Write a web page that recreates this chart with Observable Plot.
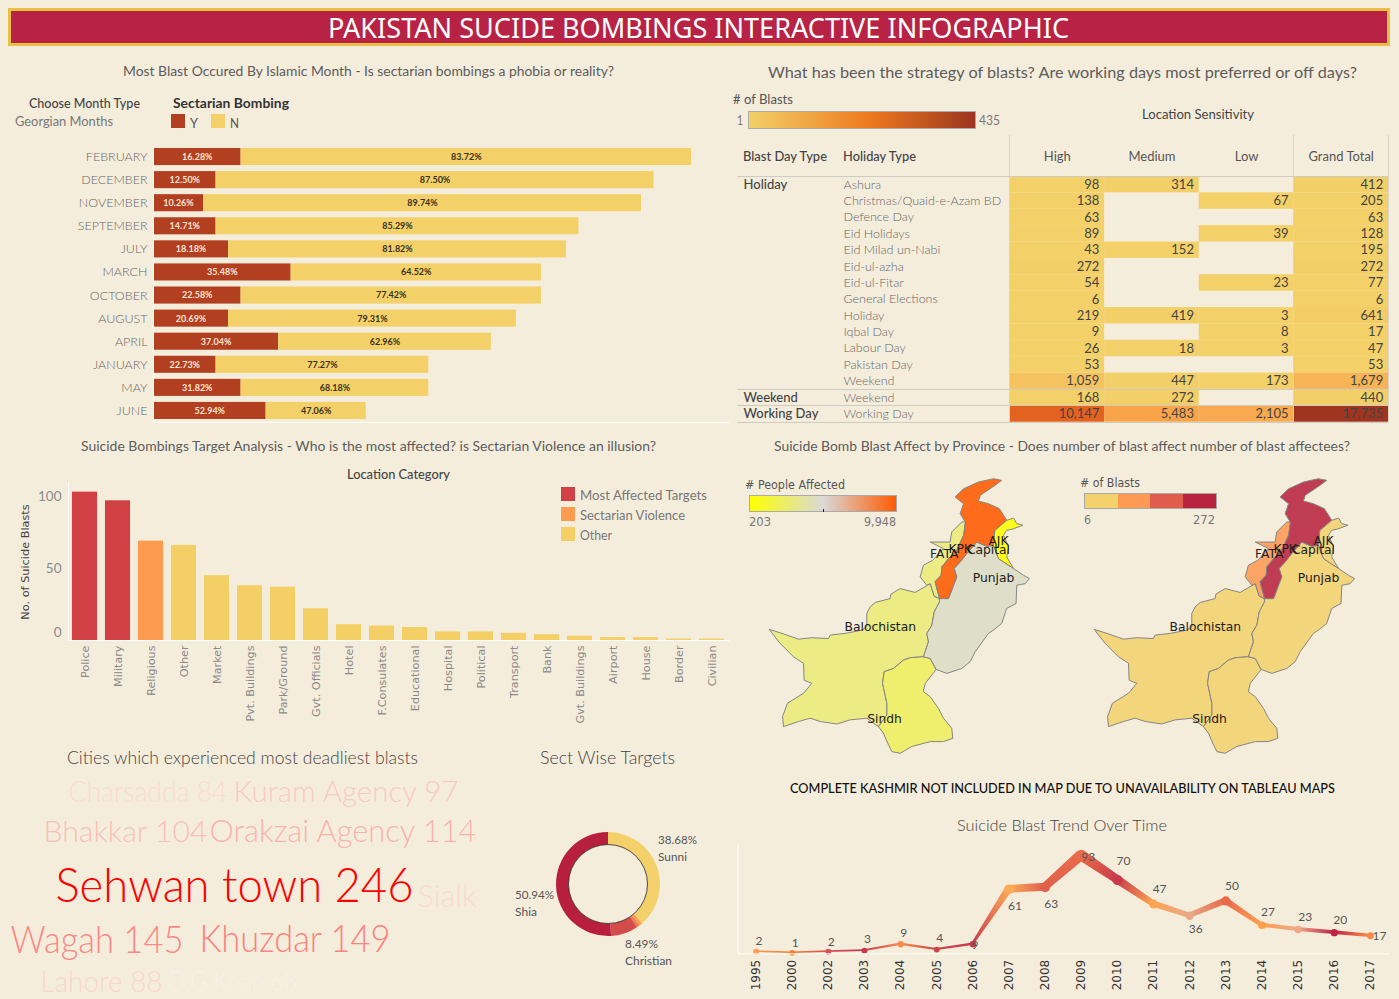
<!DOCTYPE html>
<html><head><meta charset="utf-8">
<script src="https://cdn.jsdelivr.net/npm/d3@7"></script>
<script src="https://cdn.jsdelivr.net/npm/@observablehq/plot@0.6"></script>
<style>
html,body{margin:0;padding:0;background:#f5eddc;}
#page{position:relative;width:1399px;height:999px;overflow:hidden;background:#f5eddc;font-family:Lato,sans-serif;}
#page svg{position:absolute;max-width:none;overflow:visible;background:transparent;}
.t{position:absolute;white-space:nowrap;line-height:1;transform-origin:0 50%;}
.b{position:absolute;}
</style></head><body><div id="page"></div>
<script>
// ---------- data ----------
const months = ["FEBRUARY","DECEMBER","NOVEMBER","SEPTEMBER","JULY","MARCH","OCTOBER","AUGUST","APRIL","JANUARY","MAY","JUNE"];
const monthTotal = [43,40,39,34,33,31,31,29,27,22,22,17];
const monthSectarian = [7,5,4,5,6,11,7,6,10,5,7,9];

const holidayRows = ["Ashura","Christmas/Quaid-e-Azam BD","Defence Day","Eid Holidays","Eid Milad un-Nabi","Eid-ul-azha","Eid-ul-Fitar","General Elections","Holiday","Iqbal Day","Labour Day","Pakistan Day","Weekend","Weekend","Working Day"];
const dayTypes = ["Holiday","","","","","","","","","","","","","Weekend","Working Day"];
const sensHigh = [98,138,63,89,43,272,54,6,219,9,26,53,1059,168,10147];
const sensMedium = [314,null,null,null,152,null,null,null,419,null,18,null,447,272,5483];
const sensLow = [null,67,null,39,null,null,23,null,3,8,3,null,173,null,2105];
const sensTotal = [412,205,63,128,195,272,77,6,641,17,47,53,1679,440,17735];
const sensColumns = ["High","Medium","Low","Grand Total"];

const targets = ["Police","Military","Religious","Other","Market","Pvt. Buildings","Park/Ground","Gvt. Officials","Hotel","F.Consulates","Educational","Hospital","Political","Transport","Bank","Gvt. Buildings","Airport","House","Border","Civilian"];
const targetBlasts = [103,97,69,66,45,38,37,22,11,10,9,6,6,5,4,3,2,2,1,1];
const targetGroup = ["Most Affected Targets","Most Affected Targets","Sectarian Violence","Other","Other","Other","Other","Other","Other","Other","Other","Other","Other","Other","Other","Other","Other","Other","Other","Other"];

const cloudText = ["Charsadda 84","Kuram Agency 97","Bhakkar 104","Orakzai Agency 114","Sehwan town 246","Sialk","Wagah 145","Khuzdar 149","Lahore 88","D.G Khan 68"];
const cloudCount = [84,97,104,114,246,85,145,149,88,68];

const sects = ["Sunni","Other A","Other B","Christian","Shia"];
const sectShare = [38.68,0.94,0.95,8.49,50.94];

const years = ["1995","2000","2002","2003","2004","2005","2006","2007","2008","2009","2010","2011","2012","2013","2014","2015","2016","2017"];
const yearBlasts = [2,1,2,3,9,4,9,61,63,93,70,47,36,50,27,23,20,17];

// province outlines, lon/lat
const nwBorder = [[60.90,29.69],[61.50,29.53],[62.52,29.22],[63.26,29.29],[64.19,29.25],[64.29,29.42],[65.12,29.50],[66.05,29.66],[66.33,29.82],[66.33,30.47],[66.52,30.80],[66.80,31.01],[67.63,31.20],[67.67,31.41],[68.19,31.69],[69.03,31.50],[69.87,31.93],[70.09,31.32],[70.39,31.20]];
const balPunjab = [[70.39,31.04],[70.09,30.55],[69.96,29.90],[69.68,29.50],[69.77,29.09],[69.49,28.36]];
const balSindh = [[68.75,28.31],[68.38,28.20],[67.82,27.79],[67.30,27.63],[67.21,27.06],[67.45,26.09],[67.45,25.52],[66.98,24.95]];
const balCoast = [[66.33,25.36],[65.40,25.28],[64.66,25.08],[63.73,25.20],[63.17,25.36],[62.52,25.20],[61.68,24.95],[61.63,25.44],[61.90,26.09],[62.80,26.58],[63.26,27.06],[62.83,27.22],[62.80,28.04],[62.24,28.36],[61.50,29.01]];
const sindhEast = [[69.49,28.36],[69.87,28.28],[70.20,27.74],[69.59,27.06],[69.49,26.66],[69.87,26.41],[70.33,25.84],[70.61,25.36],[71.07,24.87],[71.13,24.38],[70.61,24.22],[69.87,24.22],[68.84,23.98],[68.19,23.65],[67.73,23.73],[67.54,24.06],[67.26,24.63]];
const punjabNorth = [[70.39,31.20],[70.61,31.20],[70.89,31.20],[71.35,32.26],[71.20,32.67],[71.54,32.99],[71.91,33.40],[72.47,33.96],[73.03,33.75],[73.40,33.80]];
const punjabEast = [[73.68,33.15],[74.52,32.67],[75.07,32.34],[75.41,32.18],[75.17,31.93],[74.70,31.85],[74.66,30.96],[74.14,30.72],[73.86,29.99],[73.40,29.66],[73.12,29.50],[72.38,28.61],[72.10,28.12],[71.63,27.79],[70.80,27.55]];
const kpkFata = [[70.39,31.20],[70.14,32.02],[70.48,32.34],[70.52,32.75],[70.89,33.15],[71.35,33.56],[71.73,34.29],[71.82,34.94]];
const kpkNorth = [[71.54,35.35],[71.73,35.83],[71.26,36.16],[71.73,36.56],[72.56,36.89],[73.40,37.05],[73.86,36.97],[73.49,36.73],[72.66,36.24],[72.56,35.96],[73.12,35.83],[73.73,35.59],[74.14,35.02],[73.49,34.53],[73.40,33.80]];
const fataOuter = [[71.63,34.94],[71.07,34.45],[70.98,33.96],[69.87,33.96],[70.61,33.64],[70.01,33.07],[69.49,32.83],[69.31,32.26],[69.68,31.85],[69.87,31.93],[70.09,31.32]];
const ajkRing = [[73.49,34.53],[74.14,35.02],[74.52,35.13],[74.70,34.86],[75.04,34.78],[74.52,34.61],[74.14,34.53],[73.96,34.29],[74.24,33.72],[74.14,33.23],[74.52,32.67],[73.68,33.15],[73.40,33.80]];

const provinces = ["Balochistan","Sindh","Punjab","FATA","KPK","AJK"];
const provincePeople = [2880,2300,4630,2880,9948,203];
const provinceBlasts = [30,15,55,80,272,6];
const provinceLabels = ["Balochistan","Punjab","Sindh","FATA","KPK","Capital","AJK"];
const labelLon = [67.08,73.40,67.32,70.65,71.54,73.12,73.68];
const labelLat = [29.79,32.18,25.31,33.36,33.64,33.56,34.00];

// ---------- helpers ----------
const page = document.getElementById("page");
function T(s,x0,x1,cy,size,color,weight,family){
  const e=document.createElement("div");e.className="t";e.textContent=s;
  e.style.cssText+=`left:${x0}px;top:${cy}px;font-size:${size}px;color:${color||"#5c5c5c"};font-weight:${weight||400};font-family:${family||"Lato"},sans-serif;`;
  page.appendChild(e);
  const w=e.getBoundingClientRect().width;
  const k=x1!=null?(x1-x0)/w:1;
  e.style.transform=`translateY(-50%) scaleX(${k})`;
  return e;
}
function B(x,y,w,h,css){
  const e=document.createElement("div");e.className="b";
  e.style.cssText+=`left:${x}px;top:${y}px;width:${w}px;height:${h}px;${css}`;
  page.appendChild(e);return e;
}
function place(node,left,top){node.style.left=left+"px";node.style.top=top+"px";page.appendChild(node);return node;}
const base={style:{fontFamily:"Lato",background:"transparent",overflow:"visible"}};

// ---------- header ----------
B(8,8,1376,32,"background:#b82345;border:3px solid #e8c043;");
T("PAKISTAN SUCIDE BOMBINGS INTERACTIVE INFOGRAPHIC",328,1069,27.5,27.5,"#fff",400,"Noto Sans");

// ---------- section titles ----------
T("Most Blast Occured By Islamic Month - Is sectarian bombings a phobia or reality?",123,614,70.5,14);
T("What has been the strategy of blasts? Are working days most preferred or off days?",768,1357,71.5,16);
T("Suicide Bombings Target Analysis - Who is the most affected? is Sectarian Violence an illusion?",81,656,445.5,14);
T("Suicide Bomb Blast Affect by Province - Does number of blast affect number of blast affectees?",774,1350,446,14);
T("Cities which experienced most deadliest blasts",67,418,757,18,"#444",300);
T("Sect Wise Targets",540,675,757,18,"#444",300);
T("COMPLETE KASHMIR NOT INCLUDED IN MAP DUE TO UNAVAILABILITY ON TABLEAU MAPS",790,1335,788.5,13.5,"#111",500);
T("Suicide Blast Trend Over Time",957,1167,825,16.5,"#444",300);

// ---------- month bars ----------
T("Choose Month Type",29,140,103,13,"#444",500);
T("Georgian Months",15,113,121,13,"#777");
T("Sectarian Bombing",173,289,103.5,13.5,"#333",700);
B(171,114,14,14,"background:#b23f20;");T("Y",190,198,122.5,13,"#555");
B(211,114,14,14,"background:#f3d068;");T("N",230,239,122.5,13,"#555");

const monthRows = months.flatMap((m,i)=>[
  {month:m,sect:"Y",n:monthSectarian[i],total:monthTotal[i]},
  {month:m,sect:"N",n:monthTotal[i]-monthSectarian[i],total:monthTotal[i]}
]);
const pct=d=>(d.n/d.total*100).toFixed(2)+"%";
place(Plot.plot({...base,width:730,height:285,marginLeft:153,marginRight:1.4,marginTop:5,marginBottom:3,
  x:{domain:[0,46],axis:null},
  y:{domain:months,paddingInner:.26,paddingOuter:.13,axis:null,round:false},
  color:{domain:["Y","N"],range:["#b23f20","#f3d068"]},
  marks:[
    Plot.barX(monthRows,{x:"n",y:"month",fill:"sect"}),
    Plot.text(monthRows,Plot.stackX({x:"n",y:"month",text:pct,fontSize:9,fontWeight:700,
      fill:{value:d=>d.sect==="Y"?"#fbe6d6":"#3a3220",scale:null}})),
    Plot.axisY({tickSize:0,tickPadding:6,fontSize:12.5,fontWeight:300,fill:"#666",label:null}),
    Plot.frame({anchor:"left",stroke:"#fff"}),
    Plot.frame({anchor:"bottom",stroke:"#fff"})
  ]}),0,140);

// ---------- sensitivity table ----------
T("# of Blasts",733,793,100,12.5,"#555");
T("1",737,743,120.5,12.5,"#777");
T("435",979,1000,120.5,12.5,"#777");
B(748,110.5,226,16,"border:1px solid #aaa;background:linear-gradient(90deg,#f3d068,#ef7a1e 53%,#9c3420);");
T("Location Sensitivity",1142,1254,114,13,"#444");
T("Blast Day Type",743,827,156,13,"#444",500);
T("Holiday Type",843,916,156,13,"#444",500);

const rowKey=i=>i+"|"+holidayRows[i];
const sensCols=[sensHigh,sensMedium,sensLow,sensTotal];
const sensCells=sensColumns.flatMap((c,j)=>holidayRows.map((h,i)=>({col:c,key:rowKey(i),v:sensCols[j][i]})).filter(d=>d.v!=null));
const rowObjs=holidayRows.map((h,i)=>({key:rowKey(i),type:h,day:dayTypes[i]}));
place(Plot.plot({...base,width:651,height:288,marginLeft:272.5,marginRight:0,marginTop:41,marginBottom:1.3,
  x:{domain:sensColumns,padding:0,axis:null,round:false},
  y:{domain:rowObjs.map(d=>d.key),padding:0,axis:null,round:false},
  color:{type:"linear",domain:[1,500,2105,5483,10147,17735],range:["#f3d068","#f3cf68","#f9aa50","#f9a448","#e4621f","#a0351f"]},
  marks:[
    Plot.cell(sensCells,{x:"col",y:"key",fill:"v"}),
    Plot.text(sensCells,{x:"col",y:"key",text:d=>d3.format(",")(d.v),textAnchor:"end",dx:42,fontSize:13,fill:"#444"}),
    Plot.text(rowObjs,{y:"key",frameAnchor:"left",dx:-166.5,text:"type",textAnchor:"start",fontSize:12.5,fontWeight:300,fill:"#666"}),
    Plot.text(rowObjs,{y:"key",frameAnchor:"left",dx:-266.5,text:"day",textAnchor:"start",fontSize:13,fill:"#444",fontWeight:500}),
    Plot.axisX({anchor:"top",tickSize:0,tickPadding:16,fontSize:13,fill:"#555",label:null})
  ]}),737,135);
[175.5,388.5,405,421.5].forEach(y=>B(737,y,651,1,"background:#cfcbc2;"));
[1009,1293,1387.5].forEach(x=>B(x,135,1,287,"background:#d8d4ca;"));

// ---------- targets ----------
T("Location Category",347,450,474,13,"#444",500);
const groupColors={"Most Affected Targets":"#d04045","Sectarian Violence":"#fd9b50","Other":"#f3cf66"};
Object.keys(groupColors).forEach((g,i)=>{
  B(561,487+20*i,14,14,`background:${groupColors[g]};`);
  T(g,580,[707,685,612][i],494.5+20*i,13,"#777");
});
const targetRows=targets.map((t,i)=>({t,v:targetBlasts[i],g:targetGroup[i]}));
place(Plot.plot({...base,width:729,height:250,marginLeft:68,marginRight:1,marginTop:3,marginBottom:90,
  x:{domain:targets,paddingInner:.24,paddingOuter:.12,axis:null,round:false},
  y:{domain:[0,109],axis:null},
  color:{domain:Object.keys(groupColors),range:Object.values(groupColors)},
  marks:[
    Plot.barY(targetRows,{x:"t",y:"v",fill:"g"}),
    Plot.axisX({tickRotate:-90,tickSize:0,tickPadding:5,fontFamily:"DejaVu Sans",fontSize:11.2,fill:"#8a8a8a",label:null}),
    Plot.axisY({ticks:[50,100],tickSize:0,tickPadding:7,fontSize:13.5,fill:"#8a8a8a",label:null}),
    Plot.axisY({ticks:[0],tickSize:0,tickPadding:7,dy:-8,fontSize:13.5,fill:"#8a8a8a",label:null}),
    Plot.axisY({ticks:[],label:"No. of Suicide Blasts",labelAnchor:"center",labelArrow:"none",labelOffset:48,fontFamily:"DejaVu Sans",fontSize:11.3,fill:"#444"}),
    Plot.frame({anchor:"left",stroke:"#fff"}),
    Plot.frame({anchor:"bottom",stroke:"#fff"})
  ]}),0,480);

// ---------- maps ----------
const rev=a=>a.slice().reverse();
const rings={
  Balochistan:[...nwBorder,...balPunjab,...balSindh,...balCoast],
  Sindh:[...sindhEast,...rev(balSindh)],
  Punjab:[...punjabNorth,...punjabEast,...sindhEast.slice(0,3).reverse(),...rev(balPunjab)],
  FATA:[[71.82,34.94],...fataOuter,...kpkFata.slice(0,-1)],
  KPK:[...kpkFata.slice(-1),...kpkNorth,...rev(punjabNorth),...kpkFata.slice(1,-1)],
  AJK:ajkRing
};
const closed=r=>[...r,r[0]];
const feats=provinces.map((p,i)=>({type:"Feature",properties:{name:p,people:provincePeople[i],blasts:provinceBlasts[i]},
  geometry:{type:"Polygon",coordinates:[closed(rings[p])]}}));
const coll={type:"FeatureCollection",features:feats};
const kx=Math.cos(29*Math.PI/180);
const proj={type:()=>d3.geoTransform({point(lon,lat){this.stream.point(lon*kx,-lat);}}),domain:coll,clip:false};
const mapLabels=provinceLabels.map((n,i)=>({n,lon:labelLon[i],lat:labelLat[i]}));
function mapPlot(color,val){
  return Plot.plot({...base,width:260,height:275,margin:0,projection:proj,color,
    marks:[
      Plot.geo(feats,{fill:d=>d.properties[val],stroke:"#858585",strokeWidth:1,fillOpacity:.88}),
      Plot.text(mapLabels,{x:"lon",y:"lat",text:"n",fontFamily:"DejaVu Sans",fontSize:12.3,fill:"#1c1c1c"})
    ]});
}
place(mapPlot({type:"linear",domain:[203,5075,9948],range:["#ffff00","#d9d9d9","#ff5a00"],interpolate:"rgb"},"people"),769.3,478.3);
place(mapPlot({type:"threshold",domain:[72.5,139,205.5],range:["#f3d26e","#fd9a54","#e05c4c","#b8233f"]},"blasts"),1094,478.3);

T("# People Affected",745,845,485,12,"#555",400,"DejaVu Sans");
B(749,495,146,15,"border:1px solid #aaa;background:linear-gradient(90deg,#ffff00,#d9d9d9 50%,#ff5a00);");
B(823,509,1,3,"background:#222;");
T("203",749,771,522,12,"#777",400,"DejaVu Sans");
T("9,948",864,896,522,12,"#777",400,"DejaVu Sans");

T("# of Blasts",1080,1140,483,12,"#555",400,"DejaVu Sans");
B(1084,493,131,14,"border:1px solid #aaa;background:linear-gradient(90deg,#f3d26e 25%,#fd9a54 25% 50%,#e05c4c 50% 75%,#b8233f 75%);");
T("6",1084,1091,520,12,"#777",400,"DejaVu Sans");
T("272",1193,1215,520,12,"#777",400,"DejaVu Sans");

// ---------- word cloud ----------
const cloudX=[68,233,43,209,55,417,10,199,40,168];
const cloudY=[792,792,832,832,886,896,940,940,982,982];
const cloudW=[159,225,164,267,358,59,173,191,122,129];
const cloudSize=[29,30,30,31,47,32,38,37,29,28];
const cloudRows=cloudText.map((s,i)=>({s,c:cloudCount[i],x:cloudX[i],y:cloudY[i],f:cloudSize[i]}));
const cloud=place(Plot.plot({...base,width:480,height:999,margin:0,
  x:{type:"identity",axis:null},y:{type:"identity",axis:null},
  color:{type:"linear",domain:[68,246],range:["#f8f0ea","#ff0000"]},
  marks:[Plot.text(cloudRows,{x:"x",y:"y",text:"s",fill:"c",fontSize:"f",fontWeight:300,textAnchor:"start",fontFamily:"Lato"})]}),0,0);
cloud.querySelectorAll("text").forEach((e,i)=>{e.setAttribute("textLength",cloudW[i]);e.setAttribute("lengthAdjust","spacingAndGlyphs");});

// ---------- donut ----------
const sectColors=["#f3d06a","#fd9b50","#ee7f4c","#d44c4a","#b81e3e"];
const donutMark=()=>{
  const g=d3.create("svg:g").attr("transform","translate(60,60)");
  const arcs=d3.pie().sort(null)(sectShare);
  const arc=d3.arc().innerRadius(39.5).outerRadius(52);
  g.selectAll("path").data(arcs).join("path").attr("d",arc).attr("fill",(d,i)=>sectColors[i]);
  g.append("circle").attr("r",39.5).attr("fill","#f5eddc").attr("stroke","#222").attr("stroke-width",.8);
  return g.node();
};
place(Plot.plot({...base,width:120,height:120,margin:0,marks:[donutMark]}),547.5,824);
T("38.68%",658,697,840,12,"#555");T("Sunni",658,687,857,12,"#555");
T("50.94%",515,554,895,12,"#555");T("Shia",515,537,912,12,"#555");
T("8.49%",625,658,944,12,"#555");T("Christian",625,672,961,12,"#555");

// ---------- trend ----------
const trendColor=["#fd9b50","#ff7a28","#d84e54","#c8384c","#fb8c50","#c94545","#c8384c","#fcab58","#e0604e","#ea6c4a","#c83c4a","#fca552","#e8a888","#e86a4a","#fda04e","#efa888","#bc2444","#fb8a48"];
const trendLabelDx=[3,3,3,3,3,3,2,6,6,7,6,6,6,6,6,7,6,9];
const trendLabelDy=[-11,-10,-10,-11,-11,-11,1,17,17,2,-19,-15,13,-15,-13,-12,-13,0];
const trendRows=years.map((yr,i)=>({yr,v:yearBlasts[i],c:trendColor[i],w:1.6+yearBlasts[i]*0.1}));
const taper=(index,{x,y})=>{
  const g=d3.create("svg:g");
  const defs=g.append("defs");
  const cx=v=>x(v)+x.bandwidth()/2;
  trendRows.slice(0,-1).forEach((a,i)=>{
    const b=trendRows[i+1];
    const x1=cx(a.yr),y1=y(a.v),x2=cx(b.yr),y2=y(b.v);
    const L=Math.hypot(x2-x1,y2-y1),nx=-(y2-y1)/L,ny=(x2-x1)/L;
    const id="seg"+i;
    const lg=defs.append("linearGradient").attr("id",id).attr("gradientUnits","userSpaceOnUse")
      .attr("x1",x1).attr("y1",y1).attr("x2",x2).attr("y2",y2);
    lg.append("stop").attr("offset",0).attr("stop-color",a.c);
    lg.append("stop").attr("offset",1).attr("stop-color",b.c);
    const p=[[x1+nx*a.w/2,y1+ny*a.w/2],[x2+nx*b.w/2,y2+ny*b.w/2],[x2-nx*b.w/2,y2-ny*b.w/2],[x1-nx*a.w/2,y1-ny*a.w/2]];
    g.append("polygon").attr("points",p.map(q=>q.join(",")).join(" ")).attr("fill",`url(#${id})`);
  });
  return g.node();
};
place(Plot.plot({...base,width:651,height:154,marginLeft:.5,marginRight:0,marginTop:4,marginBottom:40.7,
  x:{type:"band",domain:years,padding:0,axis:null,round:false},
  y:{domain:[0,103.4],axis:null},
  marks:[
    taper,
    Plot.dot(trendRows,{x:"yr",y:"v",r:d=>d.w/2+.6,fill:{value:"c",scale:null}}),
    ...trendRows.map((d,i)=>Plot.text([d],{x:"yr",y:"v",text:"v",dx:trendLabelDx[i],dy:trendLabelDy[i],fontSize:12,fill:"#555"})),
    Plot.axisX({tickRotate:-90,tickSize:0,tickPadding:6,fontFamily:"DejaVu Sans",fontSize:12,fill:"#333",label:null}),
    Plot.frame({anchor:"left",stroke:"#fff"}),
    Plot.frame({anchor:"bottom",stroke:"#fff"})
  ]}),737,840);
</script></body></html>
